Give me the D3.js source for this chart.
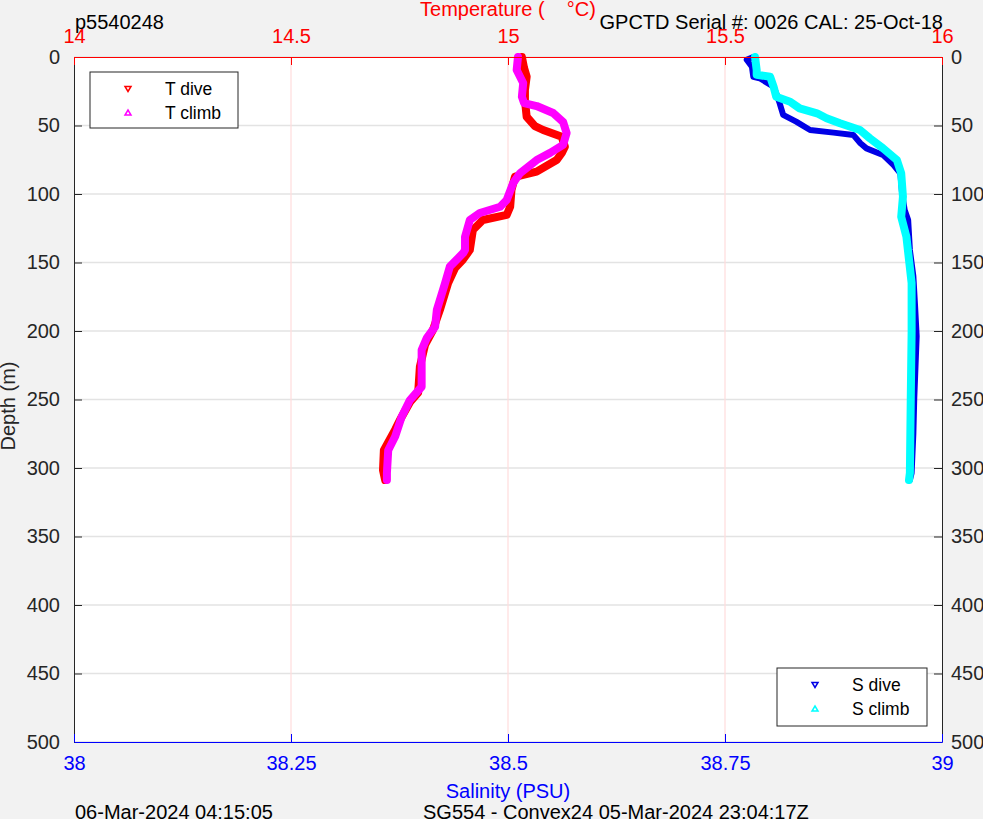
<!DOCTYPE html>
<html><head><meta charset="utf-8">
<script src="https://cdn.jsdelivr.net/npm/d3@7"></script>
<style>body{margin:0;background:#f2f2f2;} svg{display:block;font-family:"Liberation Sans",Arial,sans-serif;} text{white-space:pre;}</style>
</head><body>
<script>
const depthTicks = [0,50,100,150,200,250,300,350,400,450,500];
const tempTicks = [14,14.5,15,15.5,16];
const salTicks = [38,38.25,38.5,38.75,39];
const tempTickLabels = ["14","14.5","15","15.5","16"];
const salTickLabels = ["38","38.25","38.5","38.75","39"];

// [depth m, temperature °C]
const tDive = [[0,15.032],[8,15.037],[14.4,15.043],[24,15.039],[31.4,15.039],[43.6,15.043],[50.4,15.062],[53.3,15.081],[58.2,15.124],[65.5,15.131],[70,15.124],[75.2,15.112],[83.7,15.066],[87.4,15.016],[97,15.008],[109.3,15.005],[115.3,14.997],[119,14.942],[126.3,14.919],[140.9,14.912],[148,14.896],[154,14.878],[165,14.862],[184.7,14.843],[199.3,14.827],[210,14.809],[226,14.797],[245,14.793],[252,14.774],[265,14.751],[272,14.740],[283,14.721],[287,14.714],[301.5,14.712],[308.8,14.717]];
const tClimb = [[0,15.023],[9.5,15.020],[19,15.035],[29,15.032],[33.6,15.037],[35.8,15.066],[40.9,15.104],[47.4,15.127],[55.5,15.135],[64.2,15.127],[70,15.097],[75.2,15.066],[84.7,15.028],[92,15.012],[104.4,14.997],[109.3,14.982],[113.9,14.935],[119,14.912],[131.2,14.901],[140.9,14.901],[143,14.897],[153,14.866],[165,14.855],[184.7,14.836],[196.9,14.832],[205,14.813],[213.9,14.801],[240.7,14.801],[250.4,14.774],[262.6,14.755],[277,14.740],[287,14.724],[303.6,14.721],[308.8,14.721]];
// [depth m, salinity PSU]
const sDive = [[0,38.7826],[2,38.775],[7,38.781],[14.4,38.7826],[15.5,38.790],[21.7,38.806],[26.5,38.809],[33.8,38.813],[42.3,38.817],[47.2,38.832],[53.3,38.848],[55.2,38.875],[57,38.898],[63,38.906],[66.7,38.913],[71.5,38.932],[78.8,38.944],[84.9,38.952],[99.5,38.954],[111.7,38.957],[119,38.961],[140.9,38.963],[160,38.967],[182,38.969],[204,38.9708],[250,38.968],[275,38.967],[303.6,38.965],[308.8,38.963]];
const sClimb = [[0,38.7846],[9.5,38.7865],[13,38.7865],[14.4,38.802],[21.7,38.806],[29,38.809],[32.6,38.825],[37.5,38.836],[41.1,38.856],[44.7,38.867],[48.4,38.8825],[53.3,38.9055],[59.4,38.917],[66.6,38.932],[75.2,38.948],[84.9,38.953],[102,38.955],[116.6,38.953],[131.2,38.959],[165,38.965],[201,38.965],[250,38.964],[303.6,38.963],[308.8,38.962]];

const W=983,H=819;
const PL=74,PR=942,PT=57,PB=742;
const svg=d3.select("body").append("svg").attr("width",W).attr("height",H);
svg.append("rect").attr("width",W).attr("height",H).attr("fill","#f2f2f2");
svg.append("rect").attr("x",PL).attr("y",PT).attr("width",PR-PL).attr("height",PB-PT).attr("fill","#fff");

const yD=d3.scaleLinear().domain([0,500]).range([PT,PB]);
const xT=d3.scaleLinear().domain([14,16]).range([PL,PR]);
const xS=d3.scaleLinear().domain([38,39]).range([PL,PR]);

// grids
svg.append("g").selectAll("line").data(depthTicks).join("line")
  .attr("x1",PL).attr("x2",PR).attr("y1",d=>yD(d)).attr("y2",d=>yD(d)).attr("stroke","#e3e3e3").attr("stroke-width",1.5);
svg.append("g").selectAll("line").data(tempTicks.slice(1,-1)).join("line")
  .attr("x1",d=>xT(d)).attr("x2",d=>xT(d)).attr("y1",PT).attr("y2",PB).attr("stroke","#ffdcdc").attr("stroke-width",1.2);

const mkLine=(xs)=>d3.line().x(d=>xs(d[1])).y(d=>yD(d[0])).curve(d3.curveLinear);
function track(data,xs,color,w){
  svg.append("path").datum(data).attr("d",mkLine(xs)).attr("fill","none").attr("stroke",color)
    .attr("stroke-width",w).attr("stroke-linejoin","round").attr("stroke-linecap","round");
}
track(sDive,xS,"#0000e6",6);
track(sClimb,xS,"#00ffff",8);
track(tDive,xT,"#ff0000",8);
track(tClimb,xT,"#ff00ff",8);

// axes
const fs=20;
const axL=d3.axisLeft(yD).tickValues(depthTicks).tickSizeInner(-8).tickSizeOuter(0).tickPadding(14);
const gl=svg.append("g").attr("transform",`translate(${PL},0)`).call(axL);
const axR=d3.axisRight(yD).tickValues(depthTicks).tickSizeInner(-8).tickSizeOuter(0).tickPadding(9);
const gr=svg.append("g").attr("transform",`translate(${PR},0)`).call(axR);
[gl,gr].forEach(g=>{g.selectAll("text").attr("fill","#262626").style("font-size",fs+"px").style("font-family","Liberation Sans, Arial");
  g.selectAll("line").attr("stroke","#262626");g.select(".domain").attr("stroke","#262626");});
const axT=d3.axisTop(xT).tickValues(tempTicks).tickFormat((d,i)=>tempTickLabels[i]).tickSizeInner(-8).tickSizeOuter(0).tickPadding(14);
const gt=svg.append("g").attr("transform",`translate(0,${PT})`).call(axT);
gt.selectAll("text").attr("fill","#ff0000").style("font-size",fs+"px").style("font-family","Liberation Sans, Arial");
gt.selectAll("line").attr("stroke","#ff0000");gt.select(".domain").attr("stroke","#ff0000");
const axB=d3.axisBottom(xS).tickValues(salTicks).tickFormat((d,i)=>salTickLabels[i]).tickSizeInner(-8).tickSizeOuter(0).tickPadding(14);
const gb=svg.append("g").attr("transform",`translate(0,${PB})`).call(axB);
gb.selectAll("text").attr("fill","#0000ff").style("font-size",fs+"px").style("font-family","Liberation Sans, Arial");
gb.selectAll("line").attr("stroke","#0000ff");gb.select(".domain").attr("stroke","#0000ff");

// texts
const txt=(x,yy,s,opt={})=>svg.append("text").attr("x",x).attr("y",yy).text(s)
  .attr("fill",opt.fill||"#000").attr("text-anchor",opt.anchor||"start").style("font-size",(opt.size||fs)+"px");
txt(508,16,"Temperature (    °C)",{fill:"#ff0000",anchor:"middle"});
txt(75,29,"p5540248");
txt(943,29,"GPCTD Serial #: 0026 CAL: 25-Oct-18",{anchor:"end"});
txt(508,798,"Salinity (PSU)",{fill:"#0000ff",anchor:"middle"});
txt(75,819,"06-Mar-2024 04:15:05");
txt(423,819,"SG554 - Convex24 05-Mar-2024 23:04:17Z");
svg.append("text").attr("transform","translate(15,406) rotate(-90)").attr("text-anchor","middle")
  .attr("fill","#262626").style("font-size",fs+"px").text("Depth (m)");

// legends
function legend(x0,y0,w,h,items){
  svg.append("rect").attr("x",x0).attr("y",y0).attr("width",w).attr("height",h).attr("fill","#fff").attr("stroke","#262626").attr("stroke-width",1);
  items.forEach((it,i)=>{
    const cy=y0+16.5+i*24.5, mx=x0+38;
    const tri=it.down?`M${mx-3},${cy-2}L${mx+3},${cy-2}L${mx},${cy+3}Z`:`M${mx-3},${cy+2}L${mx+3},${cy+2}L${mx},${cy-3}Z`;
    svg.append("path").attr("d",tri).attr("fill","none").attr("stroke",it.color).attr("stroke-width",1.5);
    txt(x0+75,cy+6,it.label,{size:17.5});
  });
}
legend(90,72,148,56,[{label:"T dive",color:"#ff0000",down:true},{label:"T climb",color:"#ff00ff",down:false}]);
legend(777,668,150,58,[{label:"S dive",color:"#0000e6",down:true},{label:"S climb",color:"#00ffff",down:false}]);
</script>
</body></html>
